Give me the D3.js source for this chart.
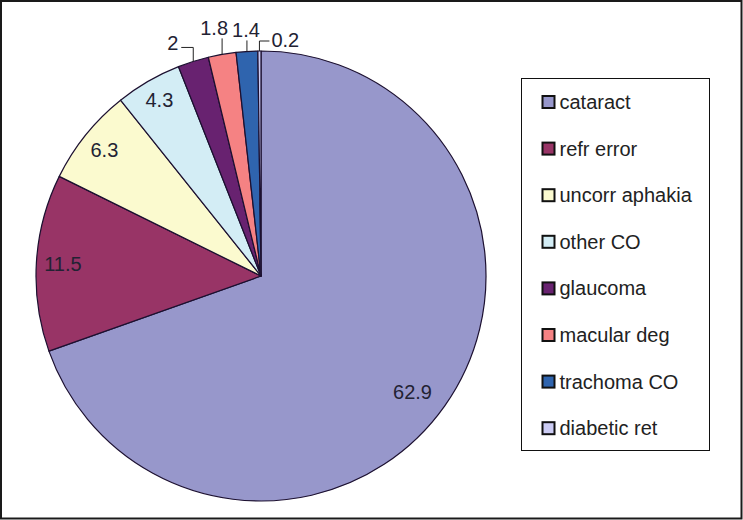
<!DOCTYPE html>
<html>
<head>
<meta charset="utf-8">
<script src="https://cdn.jsdelivr.net/npm/d3@7/dist/d3.min.js"></script>
<style>
  body { margin: 0; background: #fff; }
  text { font-family: 'Liberation Sans', Arial, sans-serif; }
</style>
</head>
<body>
<div id="chart"></div>
<script>
// data
var causes = ['cataract', 'refr error', 'uncorr aphakia', 'other CO', 'glaucoma', 'macular deg', 'trachoma CO', 'diabetic ret'];
var values = [62.9, 11.5, 6.3, 4.3, 2, 1.8, 1.4, 0.2];
var colors = ['#9797cb', '#983466', '#fbfacf', '#d3edf5', '#682270', '#f58283', '#2f64ae', '#ccccf4'];

var width = 743, height = 520;
var cx = 261, cy = 276, r = 225;

var svg = d3.select('#chart')
  .append('svg')
  .attr('width', width)
  .attr('height', height);

// outer frame
svg.append('rect')
  .attr('x', 1)
  .attr('y', 1)
  .attr('width', width - 2.5)
  .attr('height', height - 2.5)
  .attr('fill', '#fff')
  .attr('stroke', '#1a1a1a')
  .attr('stroke-width', 2);

var data = causes.map((c, i) => ({ name: c, value: values[i], color: colors[i] }));

var pie = d3.pie()
  .sort(null)
  .value(d => d.value);
var arcs = pie(data);

var arc = d3.arc().innerRadius(0).outerRadius(r);

var g = svg.append('g')
  .attr('transform', 'translate(' + cx + ',' + cy + ')');

g.selectAll('path')
  .data(arcs)
  .enter()
  .append('path')
  .attr('d', arc)
  .attr('fill', d => d.data.color)
  .attr('stroke', '#1c1030')
  .attr('stroke-width', 1.2)
  .attr('stroke-linejoin', 'round');

var fontSize = 20;

// point on the rim at the middle of a slice
function rimPoint(d, rad) {
  var a = (d.startAngle + d.endAngle) / 2;
  return [rad * Math.sin(a), -rad * Math.cos(a)];
}

function labelPos(d) {
  var a = (d.startAngle + d.endAngle) / 2;
  // the big slice label sits a little further round
  if (d.data.value > 50) a += 0.04;
  var sx = Math.sin(a), sy = -Math.cos(a);
  var w = String(d.data.value).length * fontSize * 0.5;
  var ext = (w / 2) * Math.abs(sx) + (fontSize / 2) * Math.abs(sy);
  var pad = d.data.value > 50 ? 12 : 6;
  var rr = r - pad - ext;
  return [rr * sx, rr * sy];
}

// inside labels (bigger slices), pushed towards the rim
var inside = arcs.filter(d => d.data.value >= 4);
g.selectAll('text.inside')
  .data(inside)
  .enter()
  .append('text')
  .attr('class', 'inside')
  .attr('font-size', fontSize)
  .attr('fill', '#222233')
  .attr('text-anchor', 'middle')
  .attr('dy', '0.35em')
  .attr('x', d => labelPos(d)[0])
  .attr('y', d => labelPos(d)[1])
  .text(d => d.data.value);

// outside labels with leader lines (small slices)
// rise: how far the leader goes up, run: horizontal leg, anchor: where text sits
var outside = {
  'glaucoma':    { rise: 14, run: -12, anchor: 'end',    tx: -3, ty: 3 },
  'macular deg': { rise: 16, run: 0,   anchor: 'middle', tx: -8, ty: -3 },
  'trachoma CO': { rise: 11, run: 0,   anchor: 'middle', tx: -1, ty: -3 },
  'diabetic ret':{ rise: 10, run: 10,  anchor: 'start',  tx: 2,  ty: 6 }
};

arcs.filter(d => outside[d.data.name]).forEach(d => {
  var o = outside[d.data.name];
  var p = rimPoint(d, r);
  var elbow = [p[0], p[1] - o.rise];
  var end = [elbow[0] + o.run, elbow[1]];
  g.append('path')
    .attr('d', d3.line()([p, elbow, end]))
    .attr('fill', 'none')
    .attr('stroke', '#222')
    .attr('stroke-width', 1);
  g.append('text')
    .attr('font-size', fontSize)
    .attr('fill', '#222233')
    .attr('text-anchor', o.anchor)
    .attr('x', end[0] + o.tx)
    .attr('y', end[1] + o.ty)
    .text(d.data.value);
});

// legend
var legX = 521.5, legY = 78.5, legW = 188, legH = 372;
var legend = svg.append('g');
legend.append('rect')
  .attr('x', legX)
  .attr('y', legY)
  .attr('width', legW)
  .attr('height', legH)
  .attr('fill', '#fff')
  .attr('stroke', '#111')
  .attr('stroke-width', 1);

var step = 46.6;
var items = legend.selectAll('g.item')
  .data(data)
  .enter()
  .append('g')
  .attr('class', 'item')
  .attr('transform', (d, i) => 'translate(' + (legX + 21) + ',' + (legY + 23.5 + i * step) + ')');

items.append('rect')
  .attr('x', 0)
  .attr('y', -6)
  .attr('width', 12)
  .attr('height', 12)
  .attr('fill', d => d.color)
  .attr('stroke', '#111')
  .attr('stroke-width', 2);

items.append('text')
  .attr('x', 17)
  .attr('dy', '0.35em')
  .attr('font-size', fontSize)
  .attr('fill', '#222')
  .text(d => d.name);
</script>
</body>
</html>
